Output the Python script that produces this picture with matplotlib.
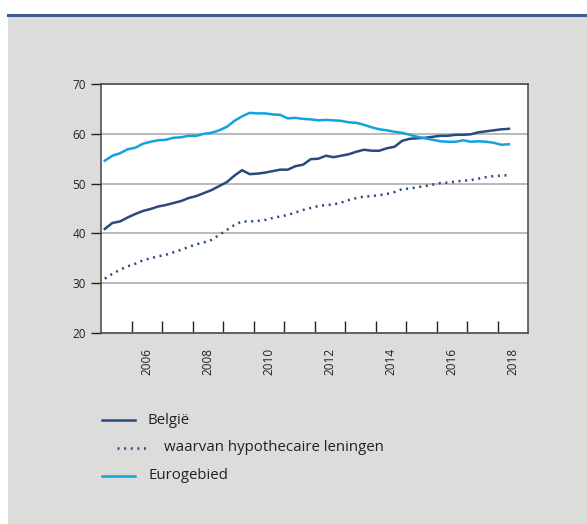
import numpy as np
import matplotlib
matplotlib.use('Agg')
import matplotlib.pyplot as plt
from matplotlib.lines import Line2D
from matplotlib.patches import Rectangle

# kwartaalcijfers, 2005K1 t/m 2018K2 (in % van het bbp)
start_year = 2005
belgie = [40.9, 42.1, 42.4, 43.2,
          43.9, 44.5, 44.9, 45.4,
          45.7, 46.1, 46.5, 47.1,
          47.5, 48.1, 48.7, 49.5,
          50.3, 51.6, 52.7, 51.9,
          52.0, 52.2, 52.5, 52.8,
          52.8, 53.5, 53.8, 54.9,
          55.0, 55.6, 55.3, 55.6,
          55.9, 56.4, 56.8, 56.6,
          56.6, 57.1, 57.4, 58.6,
          59.0, 59.1, 59.2, 59.4,
          59.6, 59.6, 59.8, 59.8,
          59.9, 60.3, 60.5, 60.7,
          60.9, 61.0]
hypotheek = [30.9, 31.9, 32.7, 33.4,
             33.9, 34.6, 35.0, 35.4,
             35.7, 36.2, 36.7, 37.3,
             37.8, 38.2, 38.7, 39.7,
             40.7, 41.7, 42.4, 42.4,
             42.5, 42.7, 43.1, 43.4,
             43.7, 44.2, 44.7, 45.1,
             45.5, 45.7, 45.8, 46.2,
             46.7, 47.1, 47.4, 47.5,
             47.7, 47.9, 48.3, 48.9,
             49.0, 49.3, 49.5, 49.8,
             50.1, 50.2, 50.4, 50.6,
             50.7, 51.0, 51.3, 51.5,
             51.6, 51.7]
eurogebied = [54.6, 55.6, 56.1, 56.9,
              57.2, 58.0, 58.4, 58.7,
              58.8, 59.2, 59.3, 59.6,
              59.6, 60.0, 60.2, 60.7,
              61.4, 62.6, 63.5, 64.2,
              64.1, 64.1, 63.9, 63.8,
              63.1, 63.2, 63.0, 62.9,
              62.7, 62.8, 62.7, 62.6,
              62.3, 62.2, 61.8, 61.3,
              60.9, 60.7, 60.4, 60.2,
              59.8, 59.4, 59.1, 58.8,
              58.5, 58.4, 58.4, 58.7,
              58.4, 58.5, 58.4, 58.2,
              57.8, 57.9]
jaar_labels = ['2006', '2008', '2010', '2012', '2014', '2016', '2018']
legend_labels = ['België', 'waarvan hypothecaire leningen', 'Eurogebied']

donkerblauw = '#2a4a7f'
lichtblauw = '#12a3de'
stippel = (0, (0.8, 1.85))
lijndikte = 1.8

plt.rcParams['font.family'] = ['Open Sans', 'DejaVu Sans']

# midden van elk kwartaal
x = start_year + 0.125 + 0.25 * np.arange(len(belgie))

fig = plt.figure(figsize=(5.87, 5.24), dpi=100)
fig.patch.set_facecolor('white')

# grijs kader met blauwe lijn bovenaan
fig.add_artist(Rectangle((8 / 587, 0), 1, 1 - 16 / 524, transform=fig.transFigure,
                         facecolor='#dcdcdb', edgecolor='none', zorder=0))
fig.add_artist(Line2D([8 / 587, 1], [1 - 14.8 / 524] * 2, transform=fig.transFigure,
                      color='#3c5d8f', lw=2.2))

ax = fig.add_axes([101 / 587, 1 - 333 / 524, 427 / 587, 249 / 524])
ax.set_facecolor('white')

ax.plot(x, belgie, color=donkerblauw, lw=lijndikte, zorder=3)
ax.plot(x, hypotheek, color=donkerblauw, lw=lijndikte, ls=stippel, zorder=3)
ax.plot(x, eurogebied, color=lichtblauw, lw=lijndikte, zorder=3)

ax.set_xlim(2005, 2019)
ax.set_ylim(20, 70)
ax.set_yticks([20, 30, 40, 50, 60, 70])
ax.grid(axis='y', color='#b4b4b4', lw=1.3)
ax.set_axisbelow(True)

# streepjes op de jaargrenzen, labels midden in het jaar
ax.set_xticks(np.arange(2006, 2019))
ax.set_xticklabels([])
ax.tick_params(axis='x', which='major', direction='in', length=9, width=1, color='#222222')
ax.set_xticks([int(j) + 0.5 for j in jaar_labels], minor=True)
ax.set_xticklabels(jaar_labels, minor=True, rotation=90, fontsize=8.5, color='#222222')
ax.tick_params(axis='x', which='minor', length=0, pad=11)
ax.tick_params(axis='y', direction='out', length=7, width=1, pad=4,
               labelsize=8.5, labelcolor='#222222', color='#222222')

for s in ax.spines.values():
    s.set_color('#444444')
    s.set_linewidth(1.1)

# legenda onder de grafiek
def fx(px):
    return px / 587


def fy(py):
    return 1 - py / 524


fig.add_artist(Line2D([fx(102), fx(135)], [fy(420)] * 2, color=donkerblauw, lw=lijndikte))
fig.text(fx(148), fy(420), legend_labels[0], fontsize=10.8, va='center', color='#222222')
fig.add_artist(Line2D([fx(117), fx(149)], [fy(447.5)] * 2, color=donkerblauw, lw=lijndikte,
                      ls=stippel))
fig.text(fx(164), fy(447.5), legend_labels[1], fontsize=10.8, va='center', color='#222222')
fig.add_artist(Line2D([fx(102), fx(135)], [fy(475.5)] * 2, color=lichtblauw, lw=lijndikte))
fig.text(fx(149), fy(475.5), legend_labels[2], fontsize=10.8, va='center', color='#222222')

fig.savefig('out.png', dpi=100)
